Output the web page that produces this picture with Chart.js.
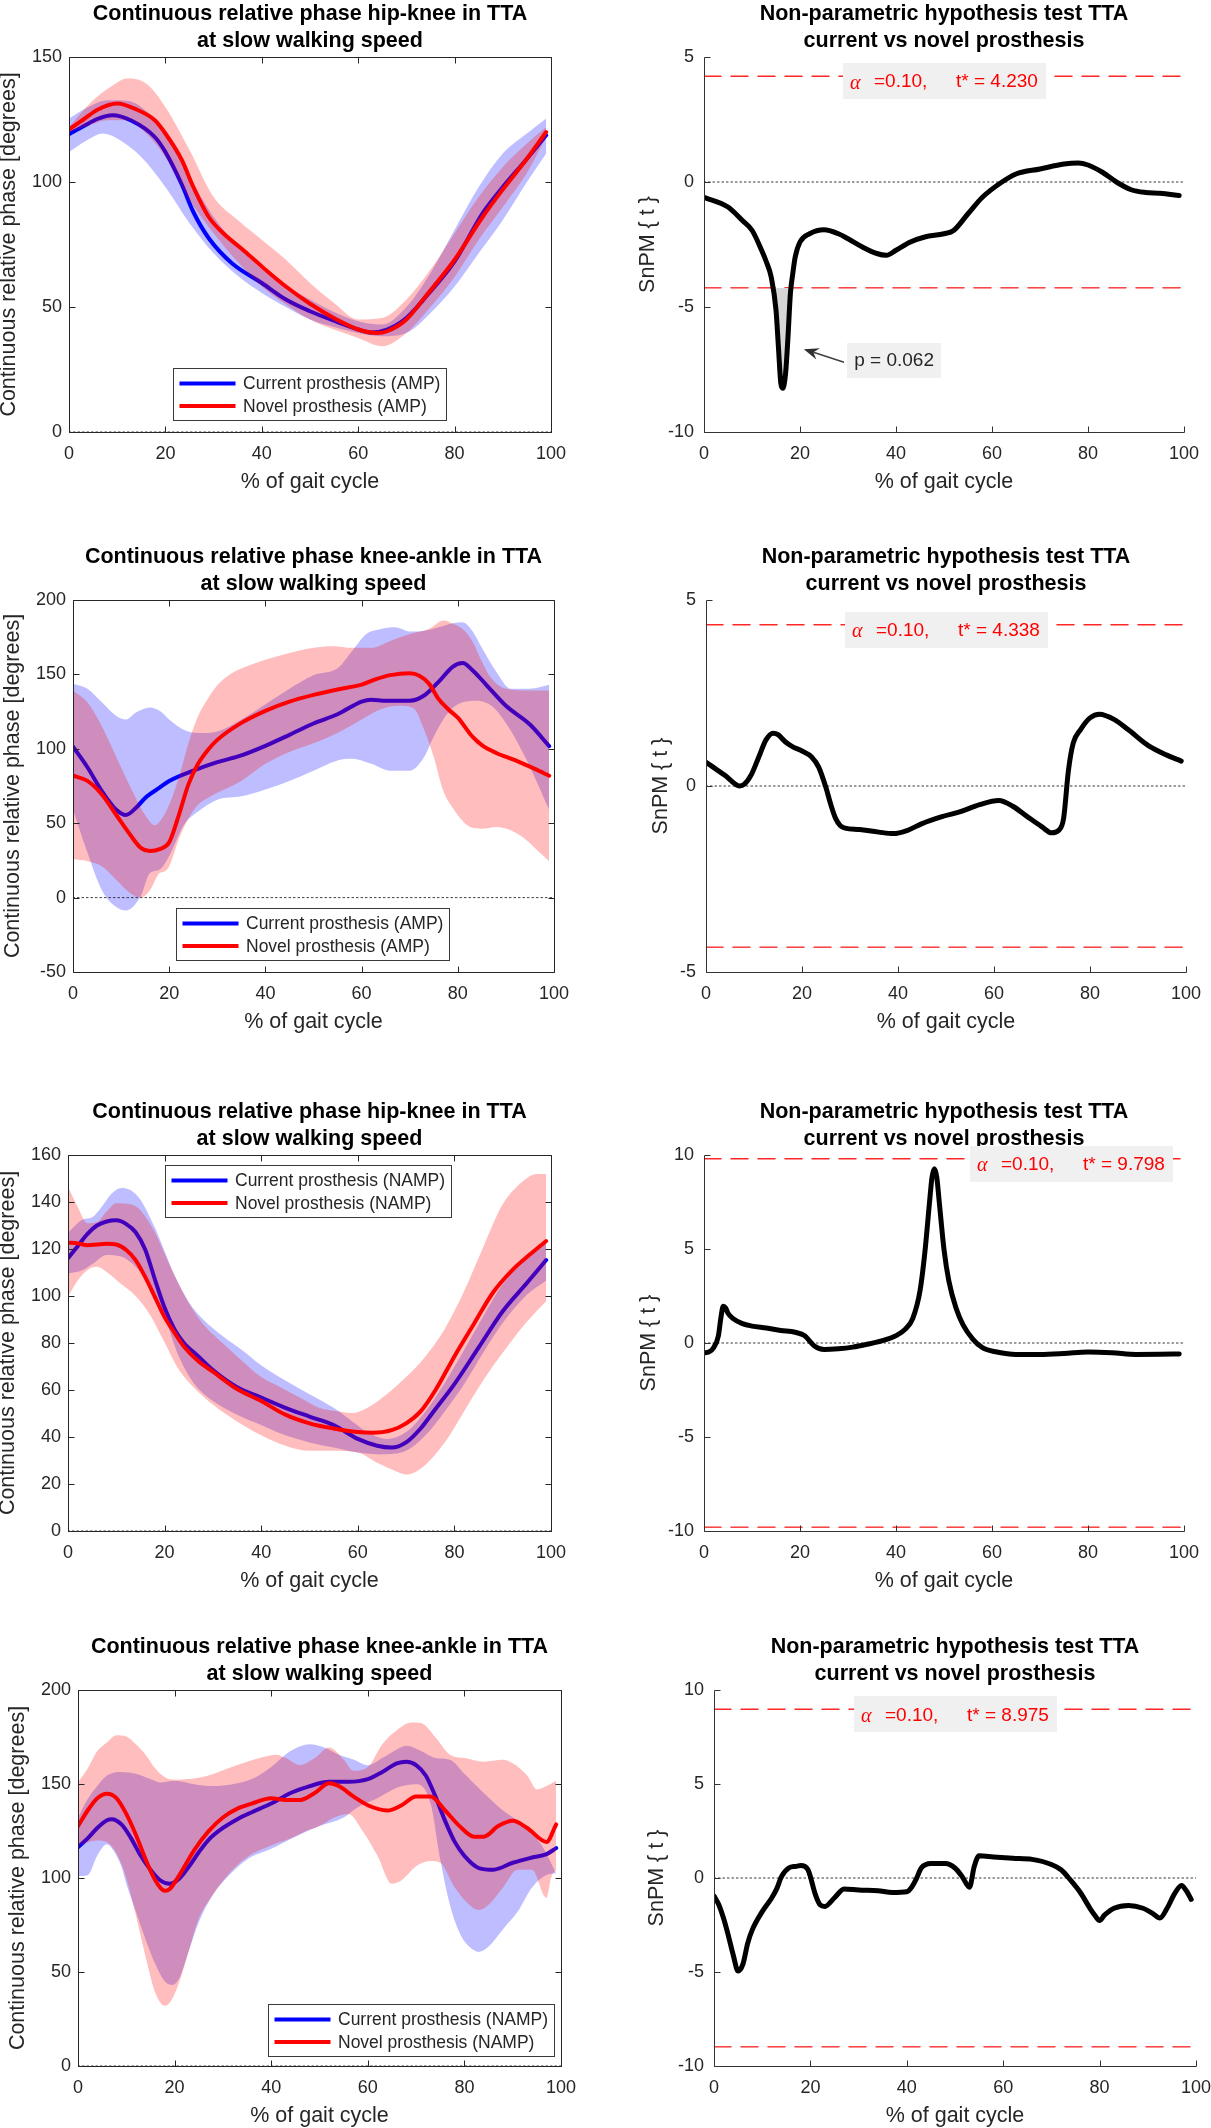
<!DOCTYPE html>
<html lang="en">
<head>
  <meta charset="UTF-8">
  <title>Continuous relative phase and SnPM tests - TTA at slow walking speed</title>
  <script src="https://cdn.jsdelivr.net/npm/chart.js"></script>
  <style>
    html, body { margin: 0; padding: 0; background: #fff; }
    #fig { position: relative; width: 1211px; height: 2128px; overflow: hidden; background: #fff; }
    #fig canvas { position: absolute; }
  </style>
</head>
<body>
<div id="fig"></div>
<script>
// ---------------- data ----------------
const gaitTicks = [0, 20, 40, 60, 80, 100];
const alphaLevel = 0.10;

// row 1 - hip-knee, amputated side
const hkAmpTicks = [0, 50, 100, 150];
const hkAmpCurMean = [[0,119.1],[3,122.3],[6,125.3],[9,126.7],[13,124.5],[17.8,118],[20,112],[23.4,99],[25.8,88],[29,77.5],[33.8,67.5],[40,59.6],[45,53],[50,48.3],[55,44.5],[60,41],[62.7,39.8],[66,41],[70,45.6],[74,54],[80,68.2],[85.8,87.5],[90,98],[94.8,108.8],[99,118.7]];
const hkAmpCurUp = [[0,125.4],[4,130],[8,132.7],[12,132.5],[15,130],[20,119.4],[25,102],[30,86],[35,74.5],[40,65],[45,58.5],[50,53],[55,48],[60,44.3],[65,43],[70,50],[75,63.6],[80,80.9],[85,98],[90,111.4],[95,119.4],[99,125.4]];
const hkAmpCurLo = [[0,112],[4,117],[7,119.4],[10,117.4],[15,110],[20,98],[25,83.5],[30,71.5],[35,62.5],[40,55.6],[45,50],[50,45],[55,42],[60,39.6],[65,38.3],[70,39.6],[75,47.6],[80,58.2],[85,71.5],[90,84.8],[95,100],[99,111.4]];
const hkAmpNovMean = [[0,121],[3,125],[6,129],[10,131.4],[14,129],[17.8,124.7],[20,119.4],[23.4,108.8],[25.8,98],[29,86],[32,79.5],[36,73],[40,66.2],[45,58.2],[50,51.3],[55.5,45],[60,41],[64,39.6],[66,40.3],[70,45],[74,54.3],[80,68.9],[85.8,86],[90,97],[94.8,108.8],[99,120]];
const hkAmpNovUp = [[0,122],[5,132.7],[9,138.5],[12,141.4],[16,139.4],[20,130],[25,112.8],[30,94],[35,84.8],[40,76.9],[45,68.9],[50,59.6],[55,51.6],[60,45],[65,45.6],[70,53],[75,65],[80,79.5],[85,94],[90,106],[95,115.4],[99,122]];
const hkAmpNovLo = [[0,120],[4,122.5],[8,124.7],[12,124.7],[16,119.4],[20,110],[25,92.8],[30,79.5],[35,68],[40,58.2],[45,51],[50,45],[55,41],[60,37.6],[65,34.3],[70,39.6],[75,50],[80,62],[85,76.9],[90,90],[95,103.6],[99,118]];

const snpmHkAmpTicks = [-10, -5, 0, 5];
const snpmHkAmp = [[0,-0.61],[5,-1.0],[8,-1.54],[10,-1.93],[12,-2.73],[13,-3.2],[14,-3.8],[15,-5.12],[15.5,-6.58],[16,-8.05],[16.4,-8.25],[17,-7.65],[17.5,-6.19],[18,-4.46],[18.5,-3.66],[19,-3.0],[20,-2.4],[22,-2.07],[25,-1.91],[28,-2.07],[30,-2.27],[33,-2.6],[36,-2.86],[38,-2.93],[40,-2.73],[43,-2.4],[46,-2.2],[50,-2.07],[52,-1.94],[55,-1.27],[58,-0.61],[62,-0.01],[65,0.32],[70,0.52],[75,0.72],[78,0.76],[80,0.68],[83,0.39],[86,-0.01],[89,-0.31],[92,-0.42],[95,-0.45],[99,-0.54]];
const tCritHkAmp = 4.230;
const pHkAmp = 0.062;

// row 2 - knee-ankle, amputated side
const kaAmpTicks = [-50, 0, 50, 100, 150, 200];
const kaAmpCurMean = [[0,101.4],[3,87.6],[6,71.6],[9,59],[11,55.5],[13,60],[15,67],[18,73.9],[20,78.4],[25,85.3],[30,91],[35,95.6],[40,102],[45,109.4],[50,117],[55,123.2],[60,131.7],[62,133],[65,132.3],[70,132.3],[73,135.8],[76,145],[79,155.3],[81,157.6],[83,153],[86,142.7],[90,128.9],[95,116.3],[99,101.8]];
const kaAmpCurUp = [[0,143.8],[3,140.4],[6,131.2],[9,122],[11,119.7],[13,124.3],[16,127.8],[18,125.5],[20,119.7],[23,112.8],[26,110.6],[30,111.7],[35,119.7],[40,130],[45,140.4],[50,149.5],[55,154.1],[58,165.6],[61,177.1],[64,180.5],[67,181.7],[70,178.9],[73,179.4],[76,181.7],[79,184.4],[81,185.1],[83,179.4],[85,167.9],[88,151.8],[91,140.4],[95,140.4],[99,143.1]];
const kaAmpCurLo = [[0,59],[3,30.3],[6,5],[9,-6.4],[11,-8.7],[14,0.5],[16,16.5],[18,18.8],[20,28],[23,48.6],[26,57.8],[30,65.8],[35,68.1],[40,72.7],[45,78.4],[50,85.3],[55,92.2],[58,93.3],[62,89.9],[66,85.3],[70,85.3],[73,94.5],[75,108.3],[78,124.3],[81,131.2],[84,132.3],[87,128.9],[90,117.4],[94,94.5],[99,59]];
const kaAmpNovMean = [[0,81.9],[3,78.4],[6,69.3],[9,55.5],[12,41.7],[14,33.7],[16,31.4],[18,32.6],[20,37.2],[22,55.5],[24,76.1],[26,89.9],[28,99.1],[30,106],[35,117.4],[40,125.5],[45,131.7],[50,136.2],[55,139.9],[60,143.1],[63,146.8],[66,149.5],[70,150.7],[72,149.1],[74,143.8],[76,133.5],[78,126.6],[80,120.9],[83,108.3],[85,102.5],[88,97.2],[92,92.2],[96,86.5],[99,81.9]];
const kaAmpNovUp = [[0,139.2],[3,131.2],[6,115.1],[9,94.5],[12,73.9],[15,55.5],[17,48.6],[18,50.9],[20,62.4],[22,80.7],[24,103.7],[26,122],[28,133.5],[30,142.7],[33,150.7],[36,155.3],[40,159.9],[45,164.4],[50,167.9],[54,169],[58,167.9],[62,167.9],[66,172.5],[70,177.1],[74,180.5],[77,186.2],[79,184],[81,180.5],[83,172.5],[85,158.7],[87,147.2],[90,140.4],[95,139.2],[99,139.2]];
const kaAmpNovLo = [[0,25.7],[3,24.5],[6,21.1],[9,11.9],[12,2.8],[14,0],[16,5],[18,16.5],[19,17.6],[20,21.1],[22,39.4],[24,53.2],[26,62.4],[28,67],[30,70.4],[35,78.4],[40,89.9],[45,97.9],[50,103.7],[55,110.6],[60,119.7],[64,126.6],[68,128.9],[71,126.6],[73,112.8],[75,94.5],[77,71.6],[79,60.1],[82,48.6],[85,46.3],[88,47.5],[91,45.2],[94,39.4],[97,30.3],[99,24.5]];

const snpmKaAmpTicks = [-5, 0, 5];
const snpmKaAmp = [[0,0.64],[2,0.46],[4,0.28],[6,0.06],[7,0],[8,0.05],[9.5,0.32],[11,0.78],[12.5,1.24],[14,1.42],[15,1.38],[16.5,1.19],[18,1.06],[20,0.94],[22,0.78],[23.5,0.5],[25,-0.05],[26,-0.5],[27,-0.87],[28,-1.07],[29,-1.13],[32,-1.17],[36,-1.24],[39,-1.28],[42,-1.19],[45,-1.01],[49,-0.83],[53,-0.69],[57,-0.5],[61,-0.39],[64,-0.55],[67,-0.83],[70,-1.1],[72,-1.26],[73.5,-1.19],[74.5,-0.87],[75.5,0.41],[76.5,1.15],[78,1.51],[80,1.83],[82,1.93],[85,1.79],[88,1.51],[92,1.1],[96,0.83],[99,0.67]];
const tCritKaAmp = 4.338;

// row 3 - hip-knee, non-amputated side
const hkNampTicks = [0, 20, 40, 60, 80, 100, 120, 140, 160];
const hkNampCurMean = [[0,116.1],[2,121.2],[4,126.3],[6,130],[8,131.7],[10,132.2],[12,130.7],[14,127.1],[16,119.7],[18,107],[20,95],[22,86],[24,80],[27,74.3],[30,68.5],[35,61.2],[40,56.8],[45,52.4],[50,48.7],[55,45.1],[60,39.2],[64,36.3],[67,35.5],[70,37.7],[73,43.6],[76,51.7],[80,62.5],[85,78],[90,93.5],[95,105.5],[99,115.3]];
const hkNampCurUp = [[0,127],[3,132.5],[5,133.5],[7,138],[9,143.5],[11,146],[13,145],[15,141],[18,129],[20,119],[22,109],[25,97.5],[28,90],[32,83],[36,77],[40,70.5],[45,64],[50,58.2],[55,52.4],[58,48],[62,42.1],[66,39.2],[70,42.1],[74,50.9],[78,63],[82,77],[86,91.5],[90,105],[95,116],[99,122.7]];
const hkNampCurLo = [[0,109.6],[3,111],[5,113.5],[8,117.5],[11,116.8],[14,112.4],[17,104],[20,91],[23,74],[26,63],[30,55.3],[35,49.5],[40,45.1],[45,40.7],[50,37.7],[55,35.5],[60,33.4],[65,32.6],[70,34.1],[74,40.7],[78,50.9],[82,62.5],[86,76],[90,88.5],[95,100.5],[99,106.6]];
const hkNampNovMean = [[0,122.7],[2,122.4],[4,121.6],[6,121.9],[8,122.2],[10,121.9],[12,119.7],[14,115.3],[16,108],[18,99.5],[20,91],[22,84.5],[24,78.5],[27,72.2],[30,67.8],[35,60.4],[40,55.3],[45,49.5],[50,45.8],[55,43.6],[60,42.1],[63,41.8],[67,42.9],[70,45.8],[73,50.9],[76,59.7],[80,74.3],[84,88],[88,101.5],[92,111],[96,118.3],[99,123.4]];
const hkNampNovUp = [[0,146.5],[2,138],[4,131],[6,131.5],[8,136],[10,139.5],[13,139],[15,136.5],[18,127],[20,118],[22,109],[25,97],[28,88],[32,80],[36,72.5],[40,65.5],[44,61.2],[48,56.8],[52,52.4],[56,50.9],[59,50.2],[62,52.4],[66,58.2],[70,65.5],[74,74.3],[78,86],[82,102],[86,121],[90,139],[94,148.5],[97,151.9],[99,151.9]];
const hkNampNovLo = [[0,99.7],[2,106.6],[4,111],[6,112.4],[8,110.2],[11,105.1],[14,100],[17,91.9],[20,80.2],[23,68.5],[26,61.2],[30,53.8],[35,46.6],[40,40.7],[45,36.3],[50,34.1],[55,34.1],[60,33.4],[64,29],[68,25.3],[70,24],[73,26.5],[78,37.7],[82,50.9],[86,64.1],[90,75.8],[95,89],[99,97.8]];

const snpmHkNampTicks = [-10, -5, 0, 5, 10];
const snpmHkNamp = [[0,-0.52],[1,-0.48],[2,-0.25],[3,0.39],[3.5,1.31],[4,1.95],[4.5,1.86],[5,1.58],[6,1.31],[8,1.03],[10,0.9],[13,0.8],[16,0.67],[19,0.57],[21,0.39],[22,0.11],[23,-0.16],[25,-0.35],[28,-0.31],[31,-0.22],[34,-0.07],[37,0.11],[40,0.39],[42,0.75],[43.5,1.31],[45,2.77],[46,4.79],[47,7.53],[47.5,8.81],[48,9.27],[48.5,8.81],[49,7.53],[50,4.97],[51,3.31],[52.5,1.86],[54,0.95],[56,0.21],[58,-0.25],[61,-0.48],[65,-0.61],[70,-0.61],[75,-0.56],[80,-0.48],[85,-0.52],[90,-0.61],[95,-0.6],[99,-0.58]];
const tCritHkNamp = 9.798;

// row 4 - knee-ankle, non-amputated side
const kaNampTicks = [0, 50, 100, 150, 200];
const kaNampCurMean = [[0,116.4],[2,121.1],[4,126.6],[6,130.7],[7,131.3],[9,128.5],[11,121.1],[13,111.8],[15,104.4],[17,98.8],[19,96.9],[21,99.7],[23,106.2],[25,113.7],[27,120.2],[30,126.6],[33,131.3],[36,135],[40,139.6],[44,145.2],[48,148.9],[52,151.2],[56,151.2],[60,152.6],[63,156.4],[66,161],[68,161.9],[70,160.1],[72,154.5],[74,143.4],[76,130.4],[78,119.2],[80,111.8],[83,105.3],[86,104.4],[90,108.1],[94,110.9],[97,112.7],[99,115.9]];
const kaNampCurUp = [[0,132],[2,142],[4,149],[6,154.5],[9,156.4],[12,155.4],[15,152.6],[17,150.8],[20,151.7],[24,149.9],[28,148.9],[32,149.9],[36,152.6],[40,159.1],[44,167.5],[48,171.2],[51,169.4],[54,165.5],[57,163],[60,160],[63,163.8],[66,168.4],[68,170.3],[71,167.5],[74,163.8],[77,162.9],[80,155.4],[84,145.2],[88,135.9],[92,128.5],[96,117.4],[99,102.5]];
const kaNampCurLo = [[0,101],[2,101.5],[4,112],[6,118],[7.5,114],[9,106],[10,97],[12,82],[14,67.2],[16,54.2],[18,44.9],[19.5,43.1],[21,46.8],[23,61.7],[25,76.5],[28,91.4],[31,100.7],[35,109.9],[40,115.5],[45,122],[50,127.6],[55,132.2],[58,137.8],[62,142.4],[66,148],[70,149.9],[73,139.6],[75,109.9],[77,85.8],[79,70.9],[81,63.5],[83,60.7],[85,63.5],[88,72.8],[91,82],[94,95],[97,101.6],[99,102.5]];
const kaNampNovMean = [[0,127.6],[2,135.9],[4,142.4],[6,144.8],[8,142.4],[10,134.1],[12,122.9],[14,109.9],[16,98.8],[18,93.2],[19,94.2],[21,101.6],[24,114.6],[27,124.8],[30,132.2],[33,136.9],[36,139.6],[40,142.4],[43,141.5],[46,141.5],[49,145.2],[52,150.4],[54,148.9],[57,143.4],[60,138.7],[64,135.9],[67,138.7],[70,143.4],[73,143.4],[76,135.9],[79,127.6],[82,122],[84,122],[87,127.6],[90,130.4],[93,126.6],[97,119.2],[99,128.5]];
const kaNampNovUp = [[0,150.8],[2,158.2],[4,167.5],[6,172.1],[8,175.9],[10,175.3],[12,171.2],[14,165.6],[16,158.2],[18,153.6],[20,152.3],[23,152.6],[27,154.5],[31,158.2],[35,161.9],[39,164.7],[41,165.6],[43,163.8],[46,160.1],[49,163.8],[52,169.4],[55,163],[57,157],[60,159],[63,171.2],[66,178.6],[69,182.7],[71,182.4],[74,174.9],[77,165.6],[80,163.8],[84,161.9],[88,162.9],[90,161],[93,154.5],[95,147.1],[97,148.9],[99,151.7]];
const kaNampNovLo = [[0,117],[2,119],[4,120],[6,119],[8,113],[10,100],[12,80],[14,58],[16,39],[18,32],[19.5,35.7],[21,44.9],[23,61.7],[25,78.4],[28,91.4],[32,104.4],[36,112.7],[40,117.3],[44,121.1],[47,124.8],[50,127.6],[53,132.2],[56,134.1],[59,124.8],[62,111.8],[65,96.9],[67,98.8],[70,106.2],[73,109],[75,108.1],[78,95],[81,85.8],[83,83],[85,85.8],[88,95],[91,104.4],[94,104.4],[97,89.5],[98,100.7],[99,104.4]];

const snpmKaNampTicks = [-10, -5, 0, 5, 10];
const snpmKaNamp = [[0,-0.96],[1,-1.42],[2,-2.16],[3,-3.09],[4,-4.11],[5,-4.95],[6,-4.58],[7,-3.46],[8,-2.72],[10,-1.79],[12,-1.05],[13,-0.58],[14,0.07],[15.5,0.53],[17,0.62],[18,0.66],[19.5,0.44],[20,0.07],[21,-0.86],[22,-1.42],[23,-1.51],[25,-1.05],[27,-0.58],[30,-0.64],[34,-0.68],[37,-0.77],[40,-0.73],[41,-0.49],[42,-0.03],[43,0.53],[45,0.77],[48,0.77],[50,0.53],[51.5,0.07],[53,-0.49],[54,0.62],[55,1.18],[58,1.12],[62,1.05],[66,0.99],[70,0.72],[72,0.44],[74,-0.12],[76,-0.77],[78,-1.61],[79,-1.98],[80,-2.26],[81,-1.98],[83,-1.61],[86,-1.46],[89,-1.61],[91,-1.88],[92.5,-2.13],[94,-1.61],[95.5,-0.86],[97,-0.4],[98,-0.68],[99,-1.14]];
const tCritKaNamp = 8.975;

// ---------------- styling / helpers ----------------
const FONT = '"Liberation Sans", Arial, Helvetica, sans-serif';
const INK = '#262626';
const BLUE = '#0000ff', RED = '#ff0000';
const BLUE_BAND = 'rgba(0,0,255,0.26)', RED_BAND = 'rgba(255,0,0,0.26)';
const fig = document.getElementById('fig');
const pts = arr => arr.map(([x, y]) => ({ x, y }));
const flat = v => [{ x: 0, y: v }, { x: 100, y: v }];

// inward MATLAB-style ticks + axes lines
const framePlugin = {
  id: 'frame',
  afterDatasetsDraw(chart, args, o) {
    const { ctx, chartArea: a, scales: { x, y } } = chart;
    const r = v => Math.round(v) + 0.5;
    const L = r(a.left), R = r(a.right), T = r(a.top), B = r(a.bottom);
    ctx.save();
    ctx.strokeStyle = o.color;
    ctx.lineWidth = 1;
    ctx.beginPath();
    if (o.box) {
      ctx.rect(L, T, R - L, B - T);
    } else {
      ctx.moveTo(L, T); ctx.lineTo(L, B); ctx.lineTo(R, B);
    }
    for (const t of x.ticks) {
      const px = r(x.getPixelForValue(t.value));
      ctx.moveTo(px, B); ctx.lineTo(px, B - 6);
      if (o.box) { ctx.moveTo(px, T); ctx.lineTo(px, T + 6); }
    }
    for (const t of y.ticks) {
      const py = r(y.getPixelForValue(t.value));
      ctx.moveTo(L, py); ctx.lineTo(L + 6, py);
      if (o.box) { ctx.moveTo(R, py); ctx.lineTo(R - 6, py); }
    }
    ctx.stroke();
    ctx.restore();
  }
};

// boxed legend inside the axes
const boxLegendPlugin = {
  id: 'boxLegend',
  afterDraw(chart, args, o) {
    if (!o.items) return;
    const { ctx, chartArea: a } = chart;
    const ds = o.items.map(i => chart.data.datasets[i]);
    ctx.save();
    ctx.font = '17.5px ' + FONT;
    const tw = Math.max(...ds.map(d => ctx.measureText(d.label).width));
    const w = Math.round(70 + tw + 6), h = 52;
    let x0 = o.right !== undefined ? a.right - o.right - w : a.left + o.left;
    let y0 = o.bottom !== undefined ? a.bottom - o.bottom - h : a.top + o.top;
    x0 = Math.round(x0) + 0.5; y0 = Math.round(y0) + 0.5;
    ctx.fillStyle = '#fff';
    ctx.fillRect(x0, y0, w, h);
    ctx.strokeStyle = '#3a3a3a';
    ctx.lineWidth = 1;
    ctx.strokeRect(x0, y0, w, h);
    ds.forEach((d, i) => {
      const yy = y0 + 15 + 22.5 * i;
      ctx.strokeStyle = d.borderColor;
      ctx.lineWidth = 4;
      ctx.beginPath(); ctx.moveTo(x0 + 6, yy); ctx.lineTo(x0 + 62, yy); ctx.stroke();
      ctx.fillStyle = INK;
      ctx.textBaseline = 'middle';
      ctx.fillText(d.label, x0 + 69.5, yy + 1);
    });
    ctx.restore();
  }
};

// critical threshold label and cluster p-value
const snpmNotesPlugin = {
  id: 'snpmNotes',
  afterDraw(chart, args, o) {
    if (o.tCrit === undefined) return;
    const { ctx, scales: { x, y } } = chart;
    ctx.save();
    const cx = x.getPixelForValue(o.boxX), cy = y.getPixelForValue(o.tCrit) + 5;
    const w = 203, h = 36, left = Math.round(cx - w / 2), top = Math.round(cy - h / 2);
    ctx.fillStyle = '#f0f0f0';
    ctx.fillRect(left, top, w, h);
    ctx.fillStyle = RED;
    ctx.textBaseline = 'middle';
    ctx.font = 'italic 20px "Liberation Serif", serif';
    ctx.fillText('\u03b1', left + 7, cy + 2);
    ctx.font = '19px ' + FONT;
    ctx.fillText('=' + o.alpha.toFixed(2) + ',', left + 31, cy + 1);
    ctx.fillText('t* = ' + o.tCrit.toFixed(3), left + 113, cy + 1);
    if (o.p) {
      const px = x.getPixelForValue(o.p.at[0]), py = y.getPixelForValue(o.p.at[1]);
      const bw = 94, bh = 35, bl = Math.round(px - bw / 2), bt = Math.round(py - bh / 2);
      ctx.fillStyle = '#f0f0f0';
      ctx.fillRect(bl, bt, bw, bh);
      ctx.fillStyle = INK;
      ctx.textAlign = 'center';
      ctx.fillText('p = ' + o.p.value.toFixed(3), px, py + 1);
      const tx = bl - 3, ty = py + 2;
      const hx = x.getPixelForValue(o.p.tip[0]), hy = y.getPixelForValue(o.p.tip[1]);
      const ang = Math.atan2(hy - ty, hx - tx);
      ctx.strokeStyle = '#404040'; ctx.fillStyle = '#303030'; ctx.lineWidth = 1.5;
      ctx.beginPath(); ctx.moveTo(tx, ty); ctx.lineTo(hx - 10 * Math.cos(ang), hy - 10 * Math.sin(ang)); ctx.stroke();
      ctx.beginPath();
      ctx.moveTo(hx, hy);
      ctx.lineTo(hx - 15 * Math.cos(ang) + 6 * Math.sin(ang), hy - 15 * Math.sin(ang) - 6 * Math.cos(ang));
      ctx.lineTo(hx - 10 * Math.cos(ang), hy - 10 * Math.sin(ang));
      ctx.lineTo(hx - 15 * Math.cos(ang) - 6 * Math.sin(ang), hy - 15 * Math.sin(ang) + 6 * Math.cos(ang));
      ctx.closePath(); ctx.fill();
    }
    ctx.restore();
  }
};

Chart.register(framePlugin, boxLegendPlugin, snpmNotesPlugin);

// place a canvas so that the plot area lands on rect = [L, T, R, B] (page px)
function makeChart(rect, o, datasets, extraPlugins) {
  const [L, T, R, B] = rect;
  const c = document.createElement('canvas');
  const w = R - L + 150, h = B - T + 160;
  c.width = w; c.height = h;
  c.style.left = (L - 120) + 'px'; c.style.top = (T - 80) + 'px';
  c.style.width = w + 'px'; c.style.height = h + 'px';
  fig.appendChild(c);

  const yW = o.yLabelGap + 12.9;
  const xH = 62.9;
  const titleH = 2 * 27 + 2.5;
  const fixTicks = vals => s => { s.ticks = vals.map(v => ({ value: v })); };

  return new Chart(c, {
    type: 'line',
    data: { datasets },
    options: {
      responsive: false,
      animation: false,
      events: [],
      layout: { padding: { left: 120 - yW, top: 80 - titleH, right: 30, bottom: 80 - xH } },
      elements: {
        point: { radius: 0, hoverRadius: 0 },
        line: { cubicInterpolationMode: 'monotone', borderCapStyle: 'round', borderJoinStyle: 'round' }
      },
      plugins: Object.assign({
        legend: { display: false },
        tooltip: { enabled: false },
        title: {
          display: true, text: o.title, fullSize: false, color: '#000',
          font: { family: FONT, size: 21.5, weight: 'bold', lineHeight: 27 / 21.5 },
          padding: { top: 0, bottom: 2.5 }
        },
        frame: { box: o.box, color: o.box ? INK : '#333' }
      }, extraPlugins),
      scales: {
        x: {
          type: 'linear', min: 0, max: 100,
          afterBuildTicks: fixTicks(gaitTicks),
          afterFit: s => { s.height = xH; },
          grid: { display: false, drawTicks: false },
          border: { display: false },
          ticks: { color: INK, font: { family: FONT, size: 18 }, padding: 11, maxRotation: 0, autoSkip: false },
          title: { display: true, text: '% of gait cycle', color: INK, font: { family: FONT, size: 21.5 }, padding: 0 }
        },
        y: {
          type: 'linear', min: o.yTicks[0], max: o.yTicks[o.yTicks.length - 1],
          afterBuildTicks: fixTicks(o.yTicks),
          afterFit: s => { s.width = yW; },
          grid: { display: false, drawTicks: false },
          border: { display: false },
          ticks: { color: INK, font: { family: FONT, size: 18 }, padding: o.tickGap, autoSkip: false },
          title: { display: true, text: o.yLabel, color: INK, font: { family: FONT, size: 21.5 }, padding: 0 }
        }
      }
    }
  });
}

function zeroLine() {
  return { data: flat(0), borderColor: INK, borderWidth: 1, borderDash: [1.5, 3], fill: false, order: 0 };
}

function crpPanel(rect, title, yTicks, s, legend) {
  const band = (data, fill, color, order) => ({
    data: pts(data), borderColor: 'rgba(0,0,0,0)', borderWidth: 0,
    fill: fill, backgroundColor: color, order
  });
  const mean = (label, data, color, order) => ({
    label, data: pts(data), borderColor: color, borderWidth: 4, fill: false, order
  });
  const datasets = [
    band(s.curUp, false, BLUE_BAND, 6),
    band(s.curLo, '-1', BLUE_BAND, 5),
    mean(s.curLabel, s.curMean, BLUE, 4),
    band(s.novUp, false, RED_BAND, 3),
    band(s.novLo, '-1', RED_BAND, 2),
    mean(s.novLabel, s.novMean, RED, 1),
    zeroLine()
  ];
  return makeChart(rect, {
    title, yTicks, box: true, yLabelGap: 60, tickGap: 7,
    yLabel: 'Continuous relative phase [degrees]'
  }, datasets, { boxLegend: Object.assign({ items: [2, 5] }, legend) });
}

function snpmPanel(rect, yTicks, t, tCrit, yLabelGap, boxX, p) {
  const thr = v => ({ data: flat(v), borderColor: 'rgba(255,0,0,0.85)', borderWidth: 1.5, borderDash: [17, 10], fill: false, order: 2 });
  const datasets = [
    thr(tCrit),
    thr(-tCrit),
    zeroLine(),
    {
      data: pts(t), borderColor: '#000', borderWidth: 5, order: 1,
      fill: { target: { value: -tCrit }, above: 'rgba(0,0,0,0)', below: '#d6d6d6' }
    }
  ];
  datasets[2].order = 3;
  return makeChart(rect, {
    title: ['Non-parametric hypothesis test TTA', 'current vs novel prosthesis'],
    yTicks, box: false, yLabelGap, tickGap: 10, yLabel: 'SnPM { t }'
  }, datasets, { snpmNotes: { tCrit, alpha: alphaLevel, boxX, p } });
}

// ---------------- panels ----------------
const hkTitle = ['Continuous relative phase hip-knee in TTA', 'at slow walking speed'];
const kaTitle = ['Continuous relative phase knee-ankle in TTA', 'at slow walking speed'];

crpPanel([69, 57, 551, 432], hkTitle, hkAmpTicks, {
  curLabel: 'Current prosthesis (AMP)', novLabel: 'Novel prosthesis (AMP)',
  curMean: hkAmpCurMean, curUp: hkAmpCurUp, curLo: hkAmpCurLo,
  novMean: hkAmpNovMean, novUp: hkAmpNovUp, novLo: hkAmpNovLo
}, { left: 104, top: 311 });

snpmPanel([704, 57, 1184, 432], snpmHkAmpTicks, snpmHkAmp, tCritHkAmp, 56.4, 50,
  { value: pHkAmp, at: [39.6, -7.13], tip: [20.8, -6.69] });

crpPanel([73, 600, 554, 972], kaTitle, kaAmpTicks, {
  curLabel: 'Current prosthesis (AMP)', novLabel: 'Novel prosthesis (AMP)',
  curMean: kaAmpCurMean, curUp: kaAmpCurUp, curLo: kaAmpCurLo,
  novMean: kaAmpNovMean, novUp: kaAmpNovUp, novLo: kaAmpNovLo
}, { left: 103, top: 308 });

snpmPanel([706, 600, 1186, 972], snpmKaAmpTicks, snpmKaAmp, tCritKaAmp, 45, 50, null);

crpPanel([68, 1155, 551, 1531], hkTitle, hkNampTicks, {
  curLabel: 'Current prosthesis (NAMP)', novLabel: 'Novel prosthesis (NAMP)',
  curMean: hkNampCurMean, curUp: hkNampCurUp, curLo: hkNampCurLo,
  novMean: hkNampNovMean, novUp: hkNampNovUp, novLo: hkNampNovLo
}, { left: 97, top: 10 });

snpmPanel([704, 1155, 1184, 1531], snpmHkNampTicks, snpmHkNamp, tCritHkNamp, 55, 76.5, null);

crpPanel([78, 1690, 561, 2066], kaTitle, kaNampTicks, {
  curLabel: 'Current prosthesis (NAMP)', novLabel: 'Novel prosthesis (NAMP)',
  curMean: kaNampCurMean, curUp: kaNampCurUp, curLo: kaNampCurLo,
  novMean: kaNampNovMean, novUp: kaNampNovUp, novLo: kaNampNovLo
}, { right: 7, bottom: 10 });

snpmPanel([714, 1690, 1196, 2066], snpmKaNampTicks, snpmKaNamp, tCritKaNamp, 57, 50, null);
</script>
</body>
</html>
